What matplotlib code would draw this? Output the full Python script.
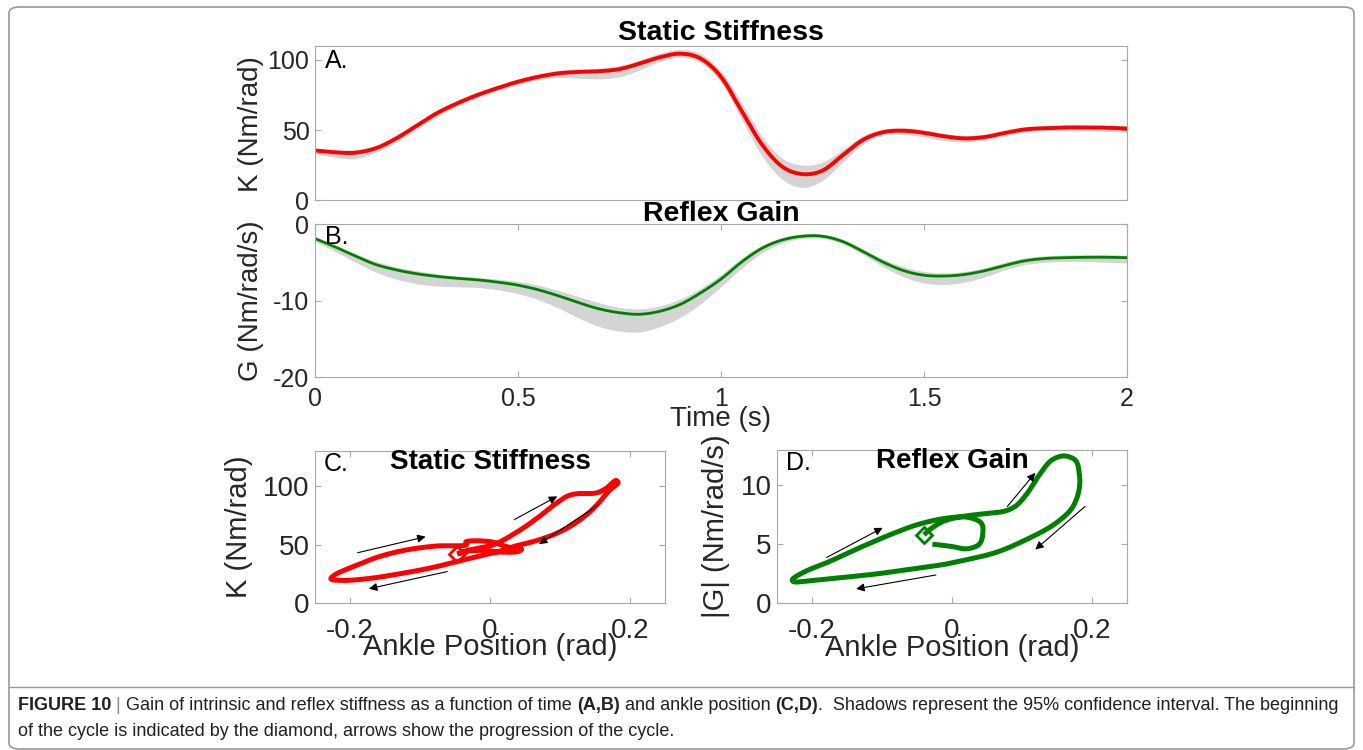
import numpy as np
import matplotlib.pyplot as plt
from matplotlib.patches import FancyBboxPatch
from matplotlib.lines import Line2D

plt.rcParams['font.family'] = ['Liberation Sans', 'DejaVu Sans']
plt.rcParams['axes.unicode_minus'] = False

# ---- time courses (A, B) ----
t = [0, 0.05, 0.1, 0.15, 0.2, 0.25, 0.3, 0.35, 0.4, 0.45, 0.5, 0.55, 0.6, 0.65,
     0.7, 0.75, 0.8, 0.85, 0.9, 0.95, 1.0, 1.05, 1.1, 1.15, 1.2, 1.25, 1.3, 1.35,
     1.4, 1.45, 1.5, 1.55, 1.6, 1.65, 1.7, 1.75, 1.8, 1.85, 1.9, 1.95, 2.0]

k_mean = [35.4, 34, 33.8, 37, 44, 53, 62, 69, 75, 80, 84.5, 88, 90.5, 91.5,
          92, 93.5, 97.5, 102, 104.5, 101, 88, 64, 40, 24, 18.5, 21, 32, 43,
          48.5, 49.5, 48, 45.5, 44, 45, 48, 50.5, 51.3, 51.8, 51.8, 51.6, 51]
k_lo = [33, 30.5, 29.5, 34, 41.5, 50.5, 59.5, 67, 73, 78, 82.5, 86, 87.5, 87,
        86.5, 88, 93, 99, 102, 98, 84, 58, 32, 15, 9, 14, 27, 40,
        46.5, 47, 45, 42.5, 41.5, 43, 46, 48.5, 49.5, 49.5, 49.5, 49, 48.5]
k_hi = [37, 36, 36, 39, 46, 55, 64, 71, 77, 82, 86.5, 90, 92.5, 93.5,
        94, 96, 100, 105, 107.5, 104.5, 92, 70, 46, 30, 25, 27, 36, 46,
        50.5, 51.5, 50, 47.5, 46, 47, 49.5, 52, 53, 53.5, 53.5, 53.5, 53]

g_mean = [-1.9, -3.0, -4.2, -5.3, -6.0, -6.5, -6.85, -7.1, -7.3, -7.6, -8.0, -8.6,
          -9.4, -10.3, -11.1, -11.6, -11.8, -11.4, -10.5, -9.0, -7.2, -5.0, -3.2,
          -2.1, -1.6, -1.6, -2.3, -3.6, -5.0, -6.1, -6.7, -6.8, -6.6, -6.1, -5.4,
          -4.8, -4.5, -4.4, -4.35, -4.35, -4.4]
g_lo = [-2.3, -3.6, -5.0, -6.3, -7.2, -7.8, -8.1, -8.2, -8.3, -8.6, -9.1, -9.9,
        -11.0, -12.3, -13.4, -14.0, -14.1, -13.4, -12.2, -10.4, -8.2, -5.8, -3.8,
        -2.5, -1.9, -1.9, -2.6, -4.0, -5.6, -6.9, -7.7, -7.9, -7.6, -6.9, -6.0,
        -5.3, -5.0, -4.9, -4.9, -5.0, -5.1]
g_hi = [-1.7, -2.8, -3.9, -4.9, -5.6, -6.1, -6.5, -6.8, -7.0, -7.2, -7.5, -8.0,
        -8.7, -9.5, -10.3, -10.9, -11.1, -10.7, -9.8, -8.4, -6.6, -4.5, -2.8,
        -1.8, -1.3, -1.35, -2.0, -3.3, -4.6, -5.6, -6.2, -6.4, -6.2, -5.7, -5.0,
        -4.4, -4.15, -4.05, -4.0, -4.0, -4.1]

# ---- loops against ankle position (C, D) ----
pos_c = [-0.047, -0.035, -0.02, 0.004, 0.042, 0.07, 0.094, 0.113, 0.125, 0.151,
         0.165, 0.18, 0.183, 0.17, 0.156, 0.137, 0.113, 0.089, 0.061, 0.035,
         0.018, -0.03, -0.077, -0.124, -0.172, -0.21, -0.227, -0.222, -0.196,
         -0.158, -0.12, -0.077, -0.034, -0.034, 0.0, 0.025, 0.045, 0.04, 0.015,
         -0.01, -0.035, -0.045]
k_c = [42, 44.5, 46.5, 49.6, 62, 73.7, 85, 92, 93.5, 94, 97.7, 104.8, 103,
       96, 86, 75, 65, 58, 52.4, 48.5, 45, 38, 31, 25.5, 21, 19.3, 20.4, 24,
       31, 39.7, 45.3, 48.7, 49.6, 52.5, 52.5, 48, 46, 44, 43.5, 45, 44, 42]

pos_d = [-0.04, -0.028, -0.01, 0.02, 0.05, 0.075, 0.09, 0.106, 0.125, 0.144,
         0.16, 0.175, 0.182, 0.182, 0.177, 0.168, 0.144, 0.11, 0.063, 0.015,
         -0.009, -0.056, -0.104, -0.151, -0.2, -0.226, -0.228, -0.209, -0.176,
         -0.128, -0.08, -0.047, -0.009, 0.02, 0.04, 0.044, 0.037, 0.02, 0.0,
         -0.028]
g_d = [5.8, 6.4, 7.0, 7.4, 7.6, 7.8, 8.2, 9.2, 10.9, 12.2, 12.5, 12.2, 10.9,
       9.8, 8.7, 7.8, 6.6, 5.5, 4.3, 3.6, 3.3, 2.9, 2.5, 2.2, 1.9, 1.8, 2.0,
       2.7, 3.5, 4.8, 6.0, 6.7, 7.2, 7.3, 6.9, 5.9, 4.9, 4.6, 4.8, 5.0]

# progression arrows: (x_start, y_start, x_end, y_end)
arrows_c = [(-0.189, 43, -0.092, 56.7), (-0.061, 26.9, -0.173, 12.2),
            (0.035, 71.4, 0.096, 91.2), (0.155, 84, 0.07, 50.4)]
arrows_d = [(-0.179, 3.87, -0.099, 6.39), (-0.023, 2.38, -0.137, 1.2),
            (0.079, 8.2, 0.119, 11.06), (0.19, 8.2, 0.119, 4.54)]

RED = '#ff0000'
GREEN = '#008000'
SHADE = '#d4d4d4'
AXC = '#a8a8a8'
TXT = '#262626'

W, H = 1363, 750
fig = plt.figure(figsize=(W / 100, H / 100), dpi=100)


def box(l, r, top, bot):
    return [l / W, 1 - bot / H, (r - l) / W, (bot - top) / H]


def style(ax, tick_size, pad):
    for s in ax.spines.values():
        s.set_color(AXC)
        s.set_linewidth(0.8)
    ax.tick_params(direction='in', length=4, width=0.8, color=AXC,
                   labelsize=tick_size, labelcolor=TXT, top=True, right=True)
    ax.tick_params(axis='x', pad=pad)
    ax.tick_params(axis='y', pad=4)


def hermite(x, y, n=12):
    # cubic Hermite through the samples (Catmull-Rom tangents)
    x = np.asarray(x, float)
    y = np.asarray(y, float)
    m = np.gradient(y, x)
    xs, ys = [], []
    for i in range(len(x) - 1):
        h = x[i + 1] - x[i]
        s = np.linspace(0, 1, n, endpoint=False)
        h00 = 2 * s**3 - 3 * s**2 + 1
        h10 = s**3 - 2 * s**2 + s
        h01 = -2 * s**3 + 3 * s**2
        h11 = s**3 - s**2
        xs.append(x[i] + s * h)
        ys.append(h00 * y[i] + h10 * h * m[i] + h01 * y[i + 1] + h11 * h * m[i + 1])
    xs.append([x[-1]])
    ys.append([y[-1]])
    return np.concatenate(xs), np.concatenate(ys)


def centripetal(px, py, sx, sy, n=16):
    # centripetal Catmull-Rom through loop points (scaled so both axes count)
    P = np.column_stack([np.asarray(px) / sx, np.asarray(py) / sy])
    P = np.vstack([2 * P[0] - P[1], P, 2 * P[-1] - P[-2]])
    out = []
    for i in range(1, len(P) - 2):
        p0, p1, p2, p3 = P[i - 1], P[i], P[i + 1], P[i + 2]
        t0 = 0.0
        t1 = t0 + max(np.linalg.norm(p1 - p0), 1e-6) ** 0.5
        t2 = t1 + max(np.linalg.norm(p2 - p1), 1e-6) ** 0.5
        t3 = t2 + max(np.linalg.norm(p3 - p2), 1e-6) ** 0.5
        tt = np.linspace(t1, t2, n, endpoint=False)[:, None]
        a1 = (t1 - tt) / (t1 - t0) * p0 + (tt - t0) / (t1 - t0) * p1
        a2 = (t2 - tt) / (t2 - t1) * p1 + (tt - t1) / (t2 - t1) * p2
        a3 = (t3 - tt) / (t3 - t2) * p2 + (tt - t2) / (t3 - t2) * p3
        b1 = (t2 - tt) / (t2 - t0) * a1 + (tt - t0) / (t2 - t0) * a2
        b2 = (t3 - tt) / (t3 - t1) * a2 + (tt - t1) / (t3 - t1) * a3
        out.append((t2 - tt) / (t2 - t1) * b1 + (tt - t1) / (t2 - t1) * b2)
    out.append(P[-2][None, :])
    C = np.vstack(out)
    return C[:, 0] * sx, C[:, 1] * sy


# A: static stiffness over time
axA = fig.add_axes(box(315, 1127, 46, 200))
ts, lo = hermite(t, k_lo)
_, hi = hermite(t, k_hi)
_, km = hermite(t, k_mean)
axA.fill_between(ts, lo, hi, color=SHADE, lw=0)
axA.plot(ts, km, color=RED, lw=2.8)
axA.set_xlim(0, 2)
axA.set_ylim(0, 110)
axA.set_yticks([0, 50, 100])
axA.set_xticks([])
style(axA, 18, 7)
axA.set_ylabel('K (Nm/rad)', fontsize=20, color=TXT)
axA.yaxis.set_label_coords(-0.063, 0.49)
axA.set_title('Static Stiffness', fontsize=20.5, fontweight='bold', pad=1)
axA.text(0.012, 0.9, 'A.', transform=axA.transAxes, fontsize=18, va='center')

# B: reflex gain over time
axB = fig.add_axes(box(315, 1127, 224, 377))
ts, lo = hermite(t, g_lo)
_, hi = hermite(t, g_hi)
_, gm = hermite(t, g_mean)
axB.fill_between(ts, lo, hi, color=SHADE, lw=0)
axB.plot(ts, gm, color=GREEN, lw=2)
axB.set_xlim(0, 2)
axB.set_ylim(-20, 0)
axB.set_yticks([-20, -10, 0])
axB.set_xticks([0, 0.5, 1, 1.5, 2])
axB.set_xticklabels(['0', '0.5', '1', '1.5', '2'])
style(axB, 18, 7)
axB.set_ylabel('G (Nm/rad/s)', fontsize=20, color=TXT)
axB.yaxis.set_label_coords(-0.063, 0.5)
axB.set_xlabel('Time (s)', fontsize=20, color=TXT)
axB.xaxis.set_label_coords(0.5, -0.19)
axB.set_title('Reflex Gain', fontsize=20.5, fontweight='bold', pad=2)
axB.text(0.012, 0.915, 'B.', transform=axB.transAxes, fontsize=18, va='center')


def loop_panel(rect, px, py, arrows, color, ylim, yticks, ylabel, title, tag):
    ax = fig.add_axes(rect)
    xs, ys = centripetal(px, py, 0.5, ylim[1])
    ax.plot(xs, ys, color=color, lw=3.6, solid_capstyle='butt', solid_joinstyle='round')
    ax.plot(px[0], py[0], marker='D', ms=8, mfc='none', mec=color, mew=2)
    for x0, y0, x1, y1 in arrows:
        ax.annotate('', xy=(x1, y1), xytext=(x0, y0),
                    arrowprops=dict(arrowstyle='-|>', color='black', lw=0.8,
                                    mutation_scale=12, shrinkA=0, shrinkB=0))
    ax.set_xlim(-0.25, 0.25)
    ax.set_ylim(*ylim)
    ax.set_xticks([-0.2, 0, 0.2])
    ax.set_xticklabels(['-0.2', '0', '0.2'])
    ax.set_yticks(yticks)
    style(ax, 20, 11)
    ax.set_xlabel('Ankle Position (rad)', fontsize=21, color=TXT)
    ax.xaxis.set_label_coords(0.5, -0.2)
    ax.set_ylabel(ylabel, fontsize=21, color=TXT)
    ax.text(0.5, 0.93, title, transform=ax.transAxes, fontsize=20,
            fontweight='bold', ha='center', va='center')
    ax.text(0.025, 0.915, tag, transform=ax.transAxes, fontsize=18, va='center')
    return ax


axC = loop_panel(box(315, 665, 451, 603), pos_c, k_c, arrows_c, RED,
                 (0, 130), [0, 50, 100], 'K (Nm/rad)', 'Static Stiffness', 'C.')
axC.yaxis.set_label_coords(-0.177, 0.5)
axD = loop_panel(box(777, 1127, 450, 603), pos_d, g_d, arrows_d, GREEN,
                 (0, 13), [0, 5, 10], '|G| (Nm/rad/s)', 'Reflex Gain', 'D.')
axD.yaxis.set_label_coords(-0.134, 0.5)

# frame around figure and caption
frame = FancyBboxPatch((9 / W, 1 - 749 / H), (1354 - 9) / W, (749 - 7) / H,
                       boxstyle='round,pad=0,rounding_size=0.008',
                       transform=fig.transFigure, fill=False, ec='#9a9a9a', lw=1.2)
fig.patches.append(frame)
fig.lines.append(Line2D([9 / W, 1354 / W], [1 - 687 / H, 1 - 687 / H],
                        transform=fig.transFigure, color='#9a9a9a', lw=1.0))

renderer = fig.canvas.get_renderer()
cap_size = 13.0


def caption_line(pieces, x_px, y_px):
    x = x_px / W
    for txt, bold, col in pieces:
        tt = fig.text(x, 1 - y_px / H, txt, fontsize=cap_size,
                      fontweight='bold' if bold else 'normal', va='center', ha='left',
                      color=col)
        bb = tt.get_window_extent(renderer)
        x += bb.width / W


BLK = '#231f20'
caption_line([('FIGURE 10', True, BLK), (' | ', False, '#8a8a8a'),
              ('Gain of intrinsic and reflex stiffness as a function of time ', False, BLK),
              ('(A,B)', True, BLK), (' and ankle position ', False, BLK), ('(C,D)', True, BLK),
              ('.  Shadows represent the 95% confidence interval. The beginning', False, BLK)],
             18, 705)
caption_line([('of the cycle is indicated by the diamond, arrows show the progression of the cycle.',
               False, BLK)], 18, 731)

fig.savefig('out.png', dpi=100)
